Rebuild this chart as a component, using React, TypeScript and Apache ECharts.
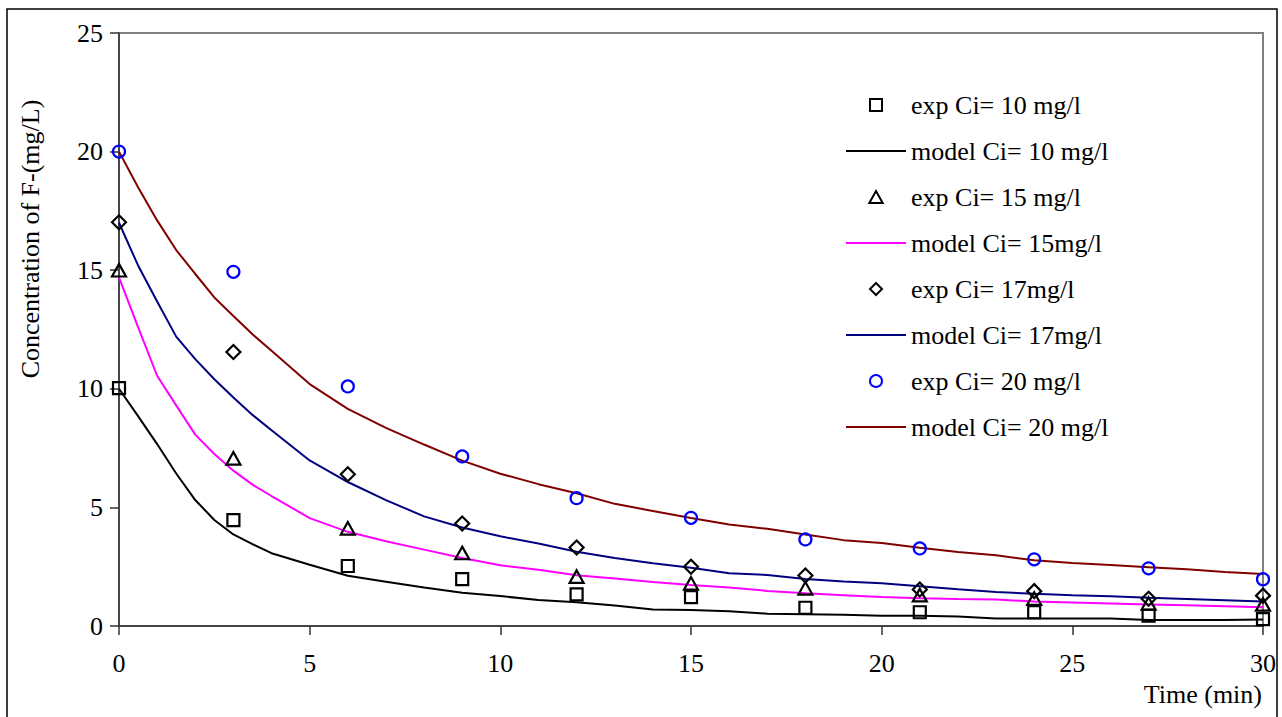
import React, { useEffect, useRef } from "react";
import * as echarts from "echarts";

const FONT = "'Liberation Serif', 'Times New Roman', serif";

const expTimes = [0, 3, 6, 9, 12, 15, 18, 21, 24, 27, 30];
const exp10 = [10.03, 4.46, 2.53, 1.98, 1.33, 1.22, 0.77, 0.58, 0.58, 0.44, 0.29];
const exp15 = [15.0, 7.07, 4.12, 3.08, 2.08, 1.8, 1.59, 1.3, 1.16, 0.95, 0.91];
const exp17 = [17.02, 11.55, 6.4, 4.32, 3.31, 2.5, 2.13, 1.54, 1.47, 1.15, 1.28];
const exp20 = [20.0, 14.93, 10.1, 7.15, 5.39, 4.56, 3.65, 3.27, 2.81, 2.43, 1.97];

const modelTimes = [
  0, 0.5, 1, 1.5, 2, 2.5, 3, 3.5, 4, 5, 6, 7, 8, 9, 10, 11, 12, 13, 14, 15, 16, 17, 18,
  19, 20, 21, 22, 23, 24, 25, 26, 27, 28, 29, 30,
];
const model10 = [
  10.0, 8.85, 7.67, 6.43, 5.31, 4.47, 3.86, 3.45, 3.07, 2.58, 2.12, 1.87, 1.62, 1.4, 1.26,
  1.1, 1.0, 0.86, 0.7, 0.67, 0.62, 0.52, 0.5, 0.47, 0.43, 0.43, 0.4, 0.32, 0.32, 0.32, 0.32,
  0.25, 0.25, 0.25, 0.27,
];
const model15 = [
  14.7, 12.6, 10.55, 9.3, 8.07, 7.25, 6.55, 5.96, 5.48, 4.55, 3.97, 3.57, 3.22, 2.87, 2.56,
  2.37, 2.14, 2.0, 1.85, 1.73, 1.62, 1.48, 1.38, 1.3, 1.22, 1.17, 1.14, 1.12, 1.03, 0.99,
  0.95, 0.91, 0.87, 0.83, 0.79,
];
const model17 = [
  17.0, 15.2, 13.68, 12.2, 11.25, 10.4, 9.63, 8.9, 8.25, 6.98, 6.07, 5.31, 4.62, 4.15, 3.78,
  3.48, 3.13, 2.87, 2.65, 2.46, 2.22, 2.15, 1.98, 1.88, 1.8, 1.68, 1.55, 1.43, 1.36, 1.3,
  1.25, 1.19, 1.14, 1.09, 1.03,
];
const model20 = [
  20.0, 18.5, 17.1, 15.85, 14.84, 13.85, 13.07, 12.3, 11.6, 10.2, 9.15, 8.35, 7.65, 6.97,
  6.42, 5.98, 5.6, 5.15, 4.85, 4.55, 4.28, 4.1, 3.86, 3.62, 3.5, 3.3, 3.12, 2.98, 2.77,
  2.66, 2.57, 2.48, 2.39, 2.28, 2.19,
];

const seriesNames = [
  "exp Ci= 10 mg/l",
  "model Ci= 10 mg/l",
  "exp Ci= 15 mg/l",
  "model Ci= 15mg/l",
  "exp Ci= 17mg/l",
  "model Ci= 17mg/l",
  "exp Ci= 20 mg/l",
  "model Ci= 20 mg/l",
];

const xTicks = [0, 5, 10, 15, 20, 25, 30];
const yTicks = [0, 5, 10, 15, 20, 25];

const SQUARE = "path://M0,0H10V10H0Z";
const TRIANGLE = "path://M5,0L10,9H0Z";
const DIAMOND = "path://M5,0L10,5L5,10L0,5Z";
const LINE_ICON = "path://M0,0H60V2H0Z";

const pair = (ts: number[], vs: number[]) => ts.map((t, i) => [t, vs[i]]);

export default function App() {
  const ref = useRef<HTMLDivElement>(null);
  useEffect(() => {
    if (!ref.current) return;
    const chart = echarts.init(ref.current, undefined, { renderer: "svg" });

    const expSeries = (name: string, vals: number[], symbol: string, size: number, color: string) => ({
      name,
      type: "scatter",
      data: pair(expTimes, vals),
      symbol,
      symbolSize: size,
      symbolKeepAspect: true,
      itemStyle: { color: "rgba(0,0,0,0)", borderColor: color, borderWidth: 2.2, opacity: 1 },
      z: 5,
    });
    const modelSeries = (name: string, vals: number[], color: string) => ({
      name,
      type: "line",
      data: pair(modelTimes, vals),
      symbol: "none",
      showSymbol: false,
      smooth: false,
      lineStyle: { color, width: 2 },
      itemStyle: { color },
      z: 3,
    });

    const legendIcons = [SQUARE, LINE_ICON, TRIANGLE, LINE_ICON, DIAMOND, LINE_ICON, "circle", LINE_ICON];

    chart.setOption({
      animation: false,
      backgroundColor: "#ffffff",
      textStyle: { fontFamily: FONT },
      grid: {
        left: 119,
        top: 33,
        right: 19,
        bottom: 91,
        show: true,
        borderColor: "#808080",
        borderWidth: 2,
        backgroundColor: "transparent",
      },
      xAxis: {
        type: "value",
        min: xTicks[0],
        max: xTicks[xTicks.length - 1],
        interval: 5,
        axisLine: { show: true, onZero: false, lineStyle: { color: "#333", width: 1.5 } },
        axisTick: { show: true, inside: false, length: 9, lineStyle: { color: "#333", width: 1.5 } },
        splitLine: { show: false },
        axisLabel: { fontSize: 26, color: "#000", fontFamily: FONT, margin: 24 },
      },
      yAxis: {
        type: "value",
        min: yTicks[0],
        max: yTicks[yTicks.length - 1],
        interval: 5,
        axisLine: { show: true, onZero: false, lineStyle: { color: "#333", width: 1.5 } },
        axisTick: { show: true, inside: false, length: 9, lineStyle: { color: "#333", width: 1.5 } },
        splitLine: { show: false },
        axisLabel: { fontSize: 26, color: "#000", fontFamily: FONT, margin: 16 },
      },
      legend: {
        orient: "vertical",
        left: 841,
        top: 87,
        itemWidth: 60,
        itemHeight: 12,
        itemGap: 20,
        symbolKeepAspect: true,
        data: seriesNames.map((name, i) => ({ name, icon: legendIcons[i] })),
        textStyle: { fontSize: 26, color: "#000", fontFamily: FONT, lineHeight: 26 },
      },
      graphic: [
        {
          type: "rect",
          shape: { x: 7, y: 9, width: 1270, height: 720 },
          style: { fill: "none", stroke: "#000", lineWidth: 1.5 },
          silent: true,
        },
        {
          type: "text",
          x: 30,
          y: 239,
          rotation: Math.PI / 2,
          style: {
            text: "Concentration of F-(mg/L)",
            font: `26px ${FONT}`,
            fill: "#000",
            textAlign: "center",
            textVerticalAlign: "middle",
          },
        },
        {
          type: "text",
          x: 1262,
          y: 694,
          style: {
            text: "Time (min)",
            font: `26px ${FONT}`,
            fill: "#000",
            textAlign: "right",
            textVerticalAlign: "middle",
          },
        },
      ],
      series: [
        expSeries(seriesNames[0], exp10, SQUARE, 12, "#000000"),
        modelSeries(seriesNames[1], model10, "#000000"),
        expSeries(seriesNames[2], exp15, TRIANGLE, 14, "#000000"),
        modelSeries(seriesNames[3], model15, "#FF00FF"),
        expSeries(seriesNames[4], exp17, DIAMOND, 14, "#000000"),
        modelSeries(seriesNames[5], model17, "#000080"),
        expSeries(seriesNames[6], exp20, "circle", 12, "#0000FF"),
        modelSeries(seriesNames[7], model20, "#800000"),
      ],
    });
    return () => chart.dispose();
  }, []);
  return (
    <div
      ref={ref}
      style={{ position: "absolute", left: 0, top: 0, width: 1282, height: 717 }}
    />
  );
}
